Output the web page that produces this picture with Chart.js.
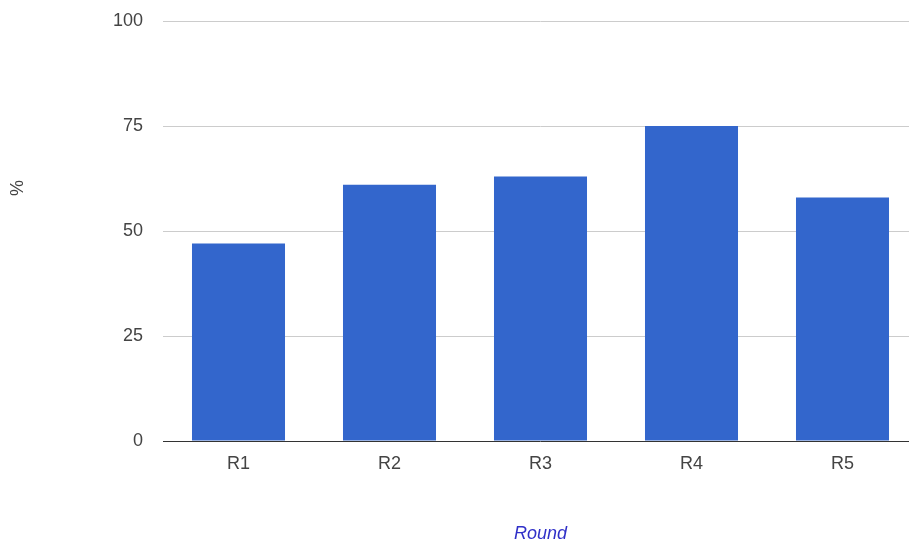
<!DOCTYPE html>
<html>
<head>
<meta charset="utf-8">
<script src="https://cdn.jsdelivr.net/npm/chart.js@4"></script>
<style>
  html, body { margin: 0; padding: 0; background: #fff; overflow: hidden; }
  #wrap { position: absolute; left: 0; top: 0; width: 930px; height: 542px; }
</style>
</head>
<body>
<div id="wrap"><canvas id="chart"></canvas></div>
<script>
const rounds = ["R1", "R2", "R3", "R4", "R5"];
const percentValues = [47, 61, 63, 75, 58];
const yTicks = [0, 25, 50, 75, 100];

const fontFamily = "'Liberation Sans', Arial, sans-serif";

// "%" axis title sits above the middle of the axis, like the original
const yTitlePlugin = {
  id: "yTitle",
  afterDraw(chart) {
    const c = chart.ctx;
    c.save();
    c.translate(18, 188);
    c.rotate(-Math.PI / 2);
    c.font = "18px " + fontFamily;
    c.fillStyle = "#444";
    c.textAlign = "center";
    c.textBaseline = "middle";
    c.fillText("%", 0, 0);
    c.restore();
  }
};

new Chart(document.getElementById("chart"), {
  type: "bar",
  data: {
    labels: rounds,
    datasets: [{
      label: "%",
      data: percentValues,
      backgroundColor: "#3366cc",
      barPercentage: 0.616,
      categoryPercentage: 1
    }]
  },
  options: {
    responsive: true,
    maintainAspectRatio: false,
    animation: false,
    layout: { padding: { left: 0, right: 12, top: 21, bottom: 0 } },
    plugins: { legend: { display: false }, tooltip: { enabled: false } },
    scales: {
      x: {
        grid: { display: false },
        border: { display: false },
        ticks: { color: "#444", font: { family: fontFamily, size: 18 }, padding: 4 },
        title: {
          display: true,
          text: "Round",
          color: "#3030c8",
          font: { family: fontFamily, size: 18, style: "italic" },
          padding: { top: 0, bottom: -3 }
        },
        afterFit(scale) { scale.height = 101; }
      },
      y: {
        min: 0,
        max: 100,
        afterBuildTicks(scale) { scale.ticks = yTicks.map(v => ({ value: v })); },
        grid: {
          drawTicks: false,
          color: ctx => ctx.tick && ctx.tick.value === 0 ? "#333" : "#ccc",
          lineWidth: 1
        },
        border: { display: false },
        ticks: { color: "#444", font: { family: fontFamily, size: 18 }, padding: 20 },
        afterFit(scale) {
          scale.width = 163;
          scale.paddingTop = 0;
          scale.paddingBottom = 0;
        }
      }
    }
  },
  plugins: [yTitlePlugin]
});
</script>
</body>
</html>
